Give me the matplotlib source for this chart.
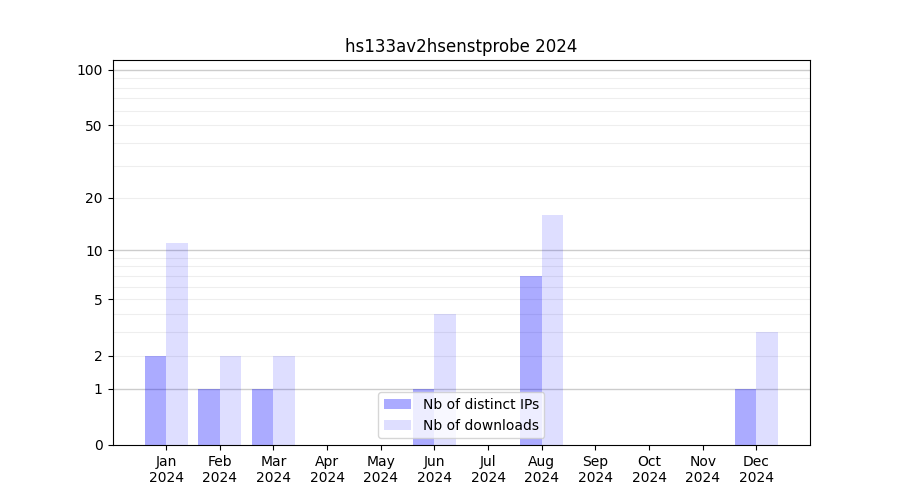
import numpy as np
import matplotlib
matplotlib.use("Agg")
import matplotlib.pyplot as plt
from matplotlib.ticker import FixedLocator, NullFormatter

# Du lieu doc tu hinh
months = ["Jan", "Feb", "Mar", "Apr", "May", "Jun", "Jul", "Aug", "Sep", "Oct", "Nov", "Dec"]
year = "2024"
distinct_ips = [2, 1, 1, 0, 0, 1, 0, 7, 0, 0, 0, 1]
downloads = [11, 2, 2, 0, 0, 4, 0, 16, 0, 0, 0, 3]
y_ticks = [0, 1, 2, 5, 10, 20, 50, 100]
major_grid = [1, 10, 100]
minor_grid = [2, 3, 4, 5, 6, 7, 8, 9, 20, 30, 40, 50, 60, 70, 80, 90]

def forward(v):
    return np.log10(np.asarray(v, dtype=float) + 1)

def inverse(v):
    return 10 ** np.asarray(v, dtype=float) - 1

fig, ax = plt.subplots(figsize=(9, 5), dpi=100)
ax.set_yscale("function", functions=(forward, inverse))

x = np.arange(len(months))
w = 0.4
ax.bar(x - w / 2, distinct_ips, width=w, color="blue", alpha=0.33, label="Nb of distinct IPs")
ax.bar(x + w / 2, downloads, width=w, color="blue", alpha=0.13, label="Nb of downloads")

for v in major_grid:
    ax.axhline(v, color="#cccccc", linewidth=1, zorder=0.5)
for v in minor_grid:
    ax.axhline(v, color="#eeeeee", linewidth=0.8, zorder=0.4)

ax.set_ylim(0, 113)
ax.yaxis.set_major_locator(FixedLocator(y_ticks))
ax.set_yticklabels([str(t) for t in y_ticks])
ax.yaxis.set_minor_locator(FixedLocator([]))
ax.yaxis.set_minor_formatter(NullFormatter())

ax.set_xticks(x)
ax.set_xticklabels([m + "\n" + year for m in months])
ax.set_xlim(-1, 12)

ax.set_title("hs133av2hsenstprobe 2024")
ax.legend(loc="lower center")

plt.savefig("out.png", dpi=100)
